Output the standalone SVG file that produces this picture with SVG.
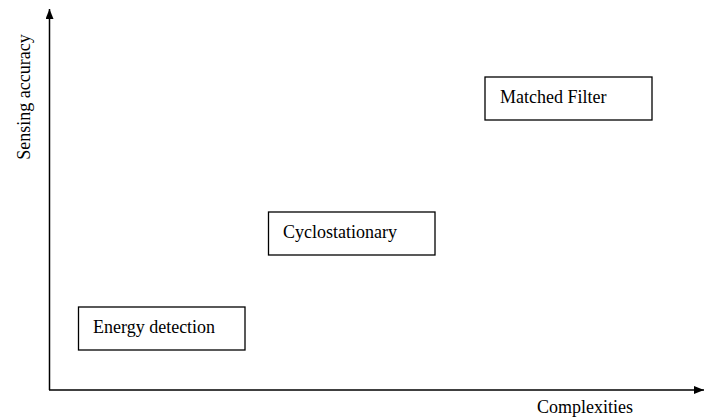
<svg xmlns="http://www.w3.org/2000/svg" width="704" height="419" viewBox="0 0 704 419">
  <style>
    .box { fill: #ffffff; stroke: #000000; stroke-width: 1.3; }
    .axis { fill: none; stroke: #000000; stroke-width: 1.5; }
    .lbl { font-family: "Liberation Serif", "Times New Roman", serif; font-size: 18px; fill: #000000; }
  </style>
  <defs>
    <marker id="arrow" viewBox="0 0 10 8" refX="10" refY="4" markerWidth="10" markerHeight="8" markerUnits="userSpaceOnUse" orient="auto">
      <path d="M0,0 L10,4 L0,8 z" fill="#000000"/>
    </marker>
  </defs>
  <rect width="704" height="419" fill="#ffffff"/>

  <!-- axes -->
  <g id="connectors">
    <line class="axis" x1="49.5" y1="390" x2="49.5" y2="9" marker-end="url(#arrow)"/>
    <line class="axis" x1="49" y1="390" x2="704" y2="390" marker-end="url(#arrow)"/>
  </g>

  <text class="lbl" transform="translate(30,97) rotate(-90)" text-anchor="middle">Sensing accuracy</text>
  <text class="lbl" x="537" y="413">Complexities</text>

  <g id="matched-filter">
    <rect class="box" x="485" y="77" width="167" height="43"/>
    <text class="lbl" x="500" y="103">Matched Filter</text>
  </g>
  <g id="cyclostationary">
    <rect class="box" x="268.5" y="212" width="166.5" height="43"/>
    <text class="lbl" x="283" y="238">Cyclostationary</text>
  </g>
  <g id="energy-detection">
    <rect class="box" x="78.5" y="307" width="166.5" height="43"/>
    <text class="lbl" x="93" y="333">Energy detection</text>
  </g>
</svg>
